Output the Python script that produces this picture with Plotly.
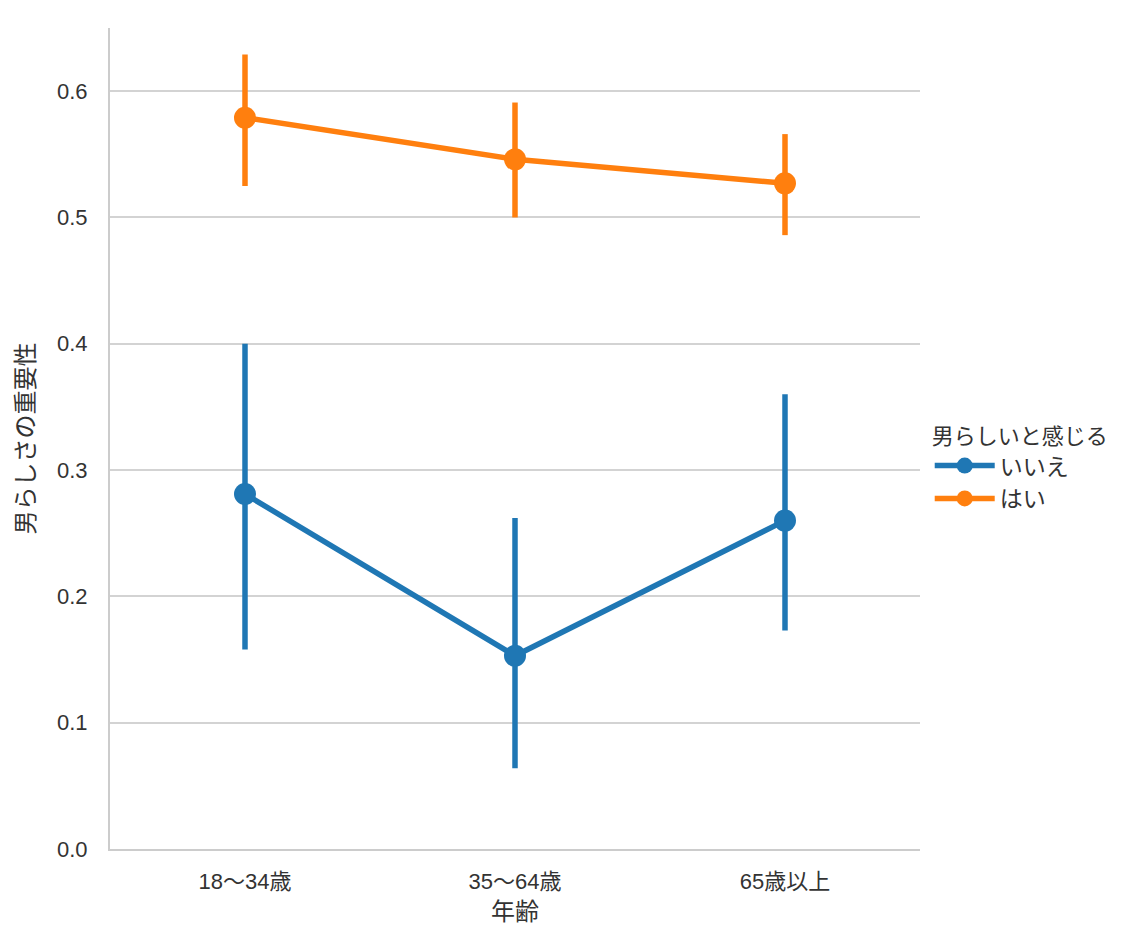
import plotly.graph_objects as go

categories = ["18〜34歳", "35〜64歳", "65歳以上"]
series_names = ["いいえ", "はい"]
colors = ["#1f77b4", "#ff7f0e"]

no_mean = [0.281, 0.153, 0.260]
no_lo = [0.158, 0.064, 0.173]
no_hi = [0.400, 0.262, 0.360]

yes_mean = [0.579, 0.546, 0.527]
yes_lo = [0.525, 0.500, 0.486]
yes_hi = [0.629, 0.591, 0.566]

font_family = "Liberation Sans, Noto Sans CJK JP, sans-serif"

fig = go.Figure()
for name, color, m, lo, hi in [
    (series_names[0], colors[0], no_mean, no_lo, no_hi),
    (series_names[1], colors[1], yes_mean, yes_lo, yes_hi),
]:
    fig.add_trace(go.Scatter(
        x=categories, y=m, name=name, mode="lines+markers",
        line=dict(color=color, width=5.5),
        marker=dict(color=color, size=22),
        error_y=dict(type="data", symmetric=False,
                     array=[h - v for h, v in zip(hi, m)],
                     arrayminus=[v - l for v, l in zip(m, lo)],
                     color=color, thickness=5.5, width=0),
    ))

fig.update_layout(
    width=1136, height=944,
    margin=dict(l=102, r=224, t=20, b=103),
    plot_bgcolor="white", paper_bgcolor="white",
    font=dict(family=font_family, size=22, color="#333333"),
    showlegend=True,
    legend=dict(
        title=dict(text="男らしいと感じる", font=dict(size=22)),
        x=1.012, y=0.528, xanchor="left", yanchor="top",
        font=dict(size=23), bgcolor="rgba(0,0,0,0)",
        itemwidth=60,
    ),
)
fig.update_xaxes(
    type="category", range=[-0.5, 2.5],
    showgrid=False, showline=True, linecolor="#cccccc", linewidth=2,
    ticks="", ticklabelstandoff=12,
    title=dict(text="年齢", font=dict(size=24), standoff=10),
    tickfont=dict(size=22),
)
fig.update_yaxes(
    range=[0, 0.65], tickvals=[0, 0.1, 0.2, 0.3, 0.4, 0.5, 0.6],
    ticktext=["0.0", "0.1", "0.2", "0.3", "0.4", "0.5", "0.6"],
    showgrid=True, gridcolor="#d3d3d3", gridwidth=2,
    showline=True, linecolor="#cccccc", linewidth=2,
    zeroline=False, ticks="", ticklen=0, ticklabelstandoff=16,
    title=dict(text="男らしさの重要性", font=dict(size=24), standoff=16),
    tickfont=dict(size=22),
)

fig.write_html("out.html")
